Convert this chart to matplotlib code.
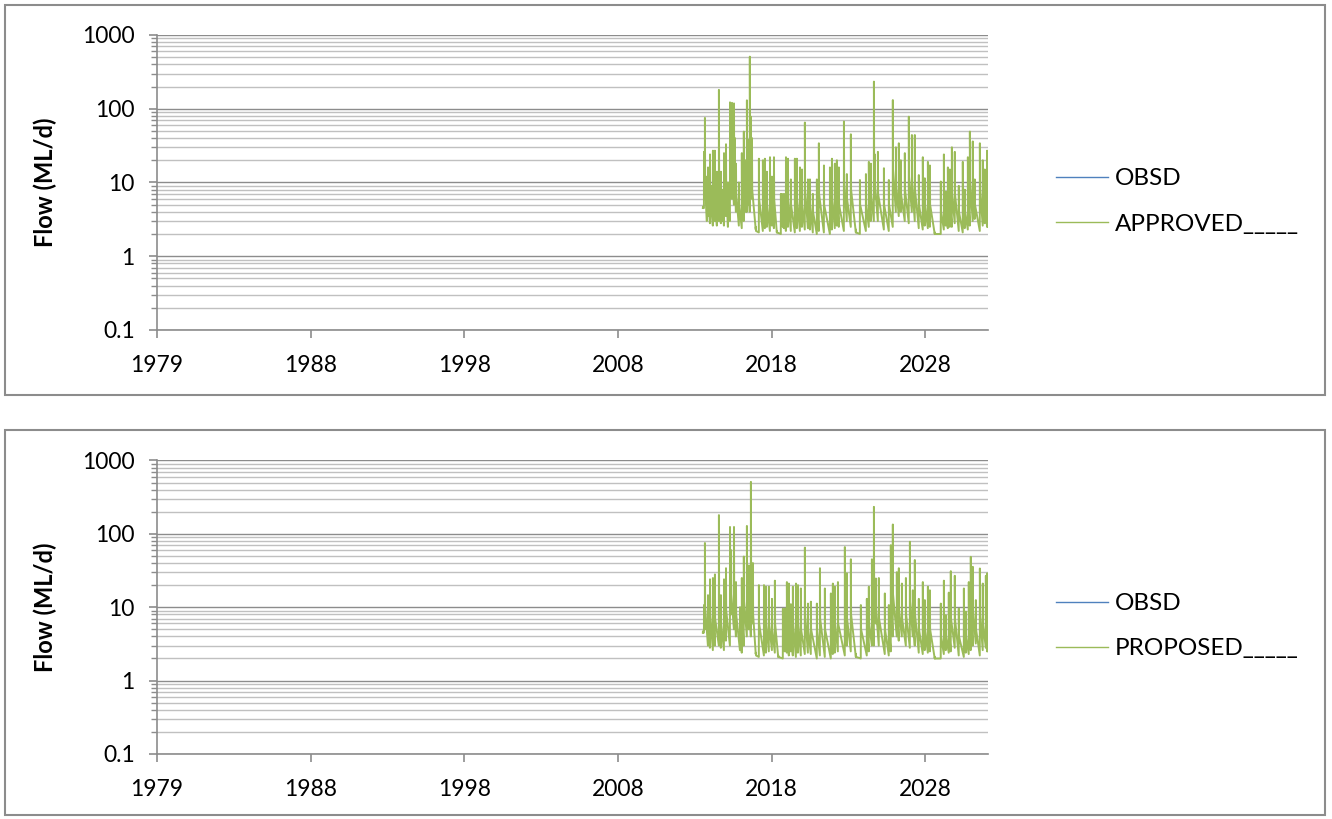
import numpy as np
import matplotlib.pyplot as plt
from matplotlib.patches import Rectangle
from matplotlib.ticker import FixedLocator, LogLocator, NullFormatter

plt.rcParams['font.family'] = ['Lato', 'DejaVu Sans']

# x axis: days from 1 Jan 1979, one tick every 3650 days
tick_days = [0, 3650, 7300, 10950, 14600, 18250]
tick_labels = ['1979', '1988', '1998', '2008', '2018', '2028']
y_ticks = [0.1, 1, 10, 100, 1000]
y_labels = ['0.1', '1', '10', '100', '1000']

# observed flow (no records in this period)
obsd_year = []
obsd_flow = []

# approved scenario, one entry per flow event:
# time (decimal year), flow before the rise, peak flow, flow a few days after the peak (ML/d)
approved_year = [2014.50, 2014.57, 2014.63, 2014.76, 2014.83, 2014.96, 2015.02, 2015.15, 2015.28, 2015.41,
                 2015.54, 2015.67, 2015.80, 2015.87, 2016.00, 2016.13, 2016.26, 2016.33, 2016.39, 2016.52,
                 2016.58, 2016.65, 2016.84, 2017.03, 2017.16, 2017.29, 2017.36, 2017.42, 2017.55, 2017.62,
                 2017.69, 2017.94, 2018.14, 2018.40, 2018.53, 2018.66, 2018.86, 2018.99, 2019.12, 2019.31,
                 2019.57, 2019.64, 2019.70, 2019.77, 2019.90, 2020.03, 2020.22, 2020.48, 2020.61, 2020.81,
                 2020.94, 2021.13, 2021.33, 2021.46, 2021.65, 2021.91, 2022.04, 2022.37, 2022.76, 2022.89,
                 2023.08, 2023.21, 2023.34, 2023.67, 2023.86, 2024.12, 2024.45, 2024.71, 2025.10, 2025.29,
                 2025.42, 2025.62, 2025.68, 2025.88, 2026.27, 2026.59, 2026.85, 2027.05, 2027.24, 2027.37,
                 2027.63, 2027.89, 2028.09, 2028.28, 2028.54, 2028.80, 2028.93, 2029.13, 2029.26, 2029.58,
                 2029.97, 2030.17, 2030.30, 2030.43, 2030.56, 2030.69, 2030.88, 2031.14, 2031.40, 2031.53,
                 2031.73, 2031.86, 2032.05, 2032.18, 2032.51, 2032.70, 2032.83, 2032.98, 2033.03]
approved_low = [4.5, 4.5, 6.0, 3.0, 3.5, 2.8, 4.0, 2.6, 3.0, 2.6,
                3.0, 2.8, 3.0, 2.6, 3.5, 2.5, 3.0, 8.0, 6.0, 5.0,
                6.0, 4.0, 2.6, 2.4, 3.0, 4.0, 4.0, 5.0, 4.0, 8.0,
                6.0, 2.3, 2.1, 2.2, 2.4, 2.5, 2.2, 2.6, 2.4, 2.1,
                2.0, 2.6, 2.5, 2.4, 2.2, 2.5, 2.2, 2.1, 2.4, 2.2,
                2.5, 2.3, 2.4, 2.3, 2.1, 2.0, 2.2, 2.1, 2.0, 2.3,
                2.4, 2.6, 2.5, 2.2, 3.0, 2.5, 2.1, 2.0, 2.2, 2.5,
                3.0, 3.0, 6.0, 3.0, 2.3, 2.2, 2.5, 4.0, 3.5, 4.0,
                3.0, 2.8, 4.0, 3.0, 2.4, 2.3, 2.6, 2.4, 2.5, 2.0,
                2.0, 2.3, 2.6, 2.4, 2.5, 2.5, 2.8, 2.2, 2.1, 2.4,
                2.3, 2.6, 3.0, 3.2, 2.2, 2.6, 2.8, 2.5, 2.5]
approved_peak = [4.7, 26, 75, 12, 16, 24, 9, 27, 27, 14,
                 180, 14, 8, 25, 33, 10, 122, 60, 120, 118,
                 40, 18, 10, 25, 49, 20, 130, 38, 508, 78,
                 40, 2.5, 21, 20, 21, 14, 22, 12, 22, 2.2,
                 7, 7, 6, 7, 22, 21, 11, 21, 21, 16,
                 15, 65, 11, 11, 7, 11, 34, 17, 16, 21,
                 18, 20, 16, 67, 13, 45, 2.3, 10.8, 13, 19,
                 18, 233, 24, 26, 15.6, 10.8, 131, 30, 34, 20,
                 25, 78, 44, 44, 12.6, 22, 11.4, 19, 17, 2.1,
                 10.3, 24, 7.5, 16, 15, 30, 26, 9, 19, 8,
                 22, 49, 36, 11, 34, 20, 15, 27, 2.5]
approved_after = [4.5, 8, 10, 6, 7, 8, 5, 8, 7, 6,
                  12, 6, 5, 8, 9, 5, 20, 15, 18, 15,
                  10, 7, 5, 8, 12, 9, 20, 14, 30, 15,
                  8, 2.2, 6, 6, 6, 5, 6, 5, 6, 2.1,
                  4, 4, 4, 4, 6, 6, 5, 6, 6, 5,
                  5, 8, 5, 5, 4, 5, 7, 5, 5, 6,
                  6, 6, 5, 10, 6, 8, 2.1, 5, 5, 6,
                  7, 20, 9, 7, 5, 5, 15, 9, 9, 7,
                  8, 12, 10, 8, 5, 6, 5, 6, 5, 2.0,
                  4, 6, 4, 5, 5, 7, 7, 4, 5, 4,
                  6, 10, 9, 5, 8, 6, 6, 7, 2.5]

# proposed scenario, same layout
proposed_year = [2014.50, 2014.57, 2014.63, 2014.83, 2014.96, 2015.15, 2015.28, 2015.54, 2015.67, 2015.87,
                 2016.00, 2016.26, 2016.33, 2016.52, 2016.65, 2016.91, 2017.03, 2017.16, 2017.36, 2017.49,
                 2017.62, 2017.75, 2017.94, 2018.14, 2018.47, 2018.60, 2018.79, 2018.99, 2019.18, 2019.40,
                 2019.70, 2019.83, 2019.96, 2020.09, 2020.22, 2020.35, 2020.55, 2020.68, 2020.87, 2021.13,
                 2021.33, 2021.52, 2021.91, 2022.11, 2022.43, 2022.82, 2022.95, 2023.08, 2023.28, 2023.73,
                 2023.86, 2024.12, 2024.45, 2024.77, 2025.16, 2025.29, 2025.49, 2025.62, 2025.75, 2025.94,
                 2026.33, 2026.59, 2026.72, 2026.85, 2027.11, 2027.24, 2027.44, 2027.70, 2027.96, 2028.15,
                 2028.28, 2028.54, 2028.80, 2028.93, 2029.13, 2029.26, 2029.58, 2029.97, 2030.17, 2030.30,
                 2030.49, 2030.62, 2030.88, 2031.14, 2031.47, 2031.60, 2031.79, 2031.92, 2032.05, 2032.25,
                 2032.51, 2032.70, 2032.90, 2032.98, 2033.03]
proposed_low = [4.5, 4.5, 5.0, 3.0, 2.8, 2.6, 3.0, 3.0, 2.8, 2.6,
                3.5, 3.0, 8.0, 5.0, 4.0, 2.6, 2.4, 3.0, 4.0, 5.0,
                4.0, 6.0, 2.3, 2.1, 2.2, 2.4, 2.5, 2.6, 2.4, 2.1,
                2.0, 2.5, 2.4, 2.2, 2.5, 2.2, 2.1, 2.4, 2.2, 2.3,
                2.4, 2.3, 2.0, 2.2, 2.1, 2.0, 2.3, 2.4, 2.5, 2.2,
                3.0, 2.5, 2.1, 2.0, 2.2, 2.5, 3.0, 3.0, 6.0, 3.0,
                2.3, 2.2, 2.5, 4.0, 4.0, 3.5, 4.0, 3.0, 2.8, 4.0,
                3.0, 2.4, 2.3, 2.6, 2.4, 2.5, 2.0, 2.0, 2.3, 2.6,
                2.4, 2.5, 2.8, 2.2, 2.1, 2.4, 2.3, 2.6, 3.0, 3.2,
                2.2, 2.6, 2.8, 2.5, 2.5]
proposed_peak = [4.7, 10.7, 75, 14.6, 24, 25, 28, 180, 14.6, 24,
                 34, 124, 60, 124, 22, 10, 25, 49, 128, 37,
                 510, 40, 2.4, 20, 20, 19, 19, 13, 23, 2.2,
                 9.5, 9.6, 22, 21, 11, 19, 21, 20, 18, 65,
                 11.2, 11.9, 11.2, 34, 18, 15.4, 21, 19, 22, 66,
                 29, 45, 2.3, 10.7, 13, 19, 45, 233, 24.6, 25,
                 15.4, 10.7, 70, 134, 30, 34, 21, 25, 78, 17,
                 44, 13, 22, 12.5, 19, 17, 2.1, 11.2, 23, 7.8,
                 15.8, 31, 26.8, 9.6, 18, 8.7, 22, 48.6, 35.5, 12.5,
                 33.7, 21, 26.8, 29, 2.5]
proposed_after = [4.5, 6, 10, 6, 8, 8, 7, 12, 6, 8,
                  9, 20, 15, 15, 8, 5, 8, 12, 20, 14,
                  30, 8, 2.2, 6, 6, 6, 6, 5, 6, 2.1,
                  4, 4, 6, 6, 5, 6, 6, 6, 5, 8,
                  5, 5, 5, 7, 5, 5, 6, 6, 6, 10,
                  7, 8, 2.1, 5, 5, 6, 9, 20, 9, 7,
                  5, 5, 12, 15, 9, 9, 7, 8, 12, 7,
                  8, 5, 6, 5, 6, 5, 2.0, 4, 6, 4,
                  5, 7, 7, 4, 5, 4, 6, 10, 9, 5,
                  8, 6, 7, 7, 2.5]

BLUE = '#4F81BD'
GREEN = '#9BBB59'
GRID_MAJOR = '#8c8c8c'
GRID_MINOR = '#c0c0c0'
AXIS_GREY = '#8c8c8c'


def to_days(years):
    return (np.asarray(years, dtype=float) - 1979.0) * 365.25


def hydrograph(years, low, peak, after):
    # rise from the pre-event flow to the peak, quick fall, then recession to the next event
    d = to_days(years)
    xs, ys = [], []
    for t, lo, pk, af in zip(d, low, peak, after):
        xs += [t - 2, t, t + 5]
        ys += [lo, pk, af]
    return np.array(xs), np.array(ys)


def flow_panel(ax, years, low, peak, after, name):
    x, y = hydrograph(years, low, peak, after)
    ax.plot(to_days(obsd_year), obsd_flow, color=BLUE, lw=1.0, label='OBSD')
    ax.plot(x, y, color=GREEN, lw=1.4, label=name)

    ax.set_yscale('log')
    ax.set_ylim(0.1, 1000)
    ax.set_xlim(0, x.max())
    ax.yaxis.set_major_locator(FixedLocator(y_ticks))
    ax.set_yticklabels(y_labels)
    ax.yaxis.set_minor_locator(LogLocator(base=10, subs=np.arange(2, 10)))
    ax.yaxis.set_minor_formatter(NullFormatter())
    ax.set_xticks(tick_days)
    ax.set_xticklabels(tick_labels)

    ax.grid(True, which='major', axis='y', color=GRID_MAJOR, lw=1.0)
    ax.grid(True, which='minor', axis='y', color=GRID_MINOR, lw=1.0)
    ax.set_axisbelow(True)

    for side in ['top', 'right']:
        ax.spines[side].set_visible(False)
    for side in ['left', 'bottom']:
        ax.spines[side].set_color(AXIS_GREY)
        ax.spines[side].set_linewidth(1.2)

    ax.tick_params(axis='both', which='major', direction='out', length=6, width=1.2,
                   color=AXIS_GREY, labelsize=16.5, labelcolor='black')
    ax.tick_params(axis='y', which='major', pad=10)
    ax.tick_params(axis='x', which='major', pad=12)
    ax.tick_params(axis='y', which='minor', direction='out', length=4, width=1.0, color=AXIS_GREY)

    ax.set_ylabel('Flow (ML/d)', fontsize=17, fontweight='bold')
    ax.yaxis.set_label_coords(-0.12, 0.5)

    leg = ax.legend(loc='center left', bbox_to_anchor=(1.082, 0.435), frameon=False, fontsize=17.5,
                    handlelength=2.15, handletextpad=0.25, labelspacing=1.0, borderpad=0, borderaxespad=0)
    for line in leg.get_lines():
        line.set_linewidth(1.0)


fig = plt.figure(figsize=(13.32, 8.19), dpi=100)

# chart area borders
for y0, h in [(0.5177, 0.4762), (0.0049, 0.4701)]:
    fig.patches.append(Rectangle((0.0038, y0), 0.9910, h, transform=fig.transFigure,
                                 fill=False, edgecolor='#8c8c8c', lw=1.5))

ax1 = fig.add_axes([0.1179, 0.5971, 0.6239, 0.3602])
flow_panel(ax1, approved_year, approved_low, approved_peak, approved_after, 'APPROVED_____')

ax2 = fig.add_axes([0.1179, 0.0794, 0.6239, 0.3584])
flow_panel(ax2, proposed_year, proposed_low, proposed_peak, proposed_after, 'PROPOSED_____')

fig.savefig('out.png', dpi=100)
